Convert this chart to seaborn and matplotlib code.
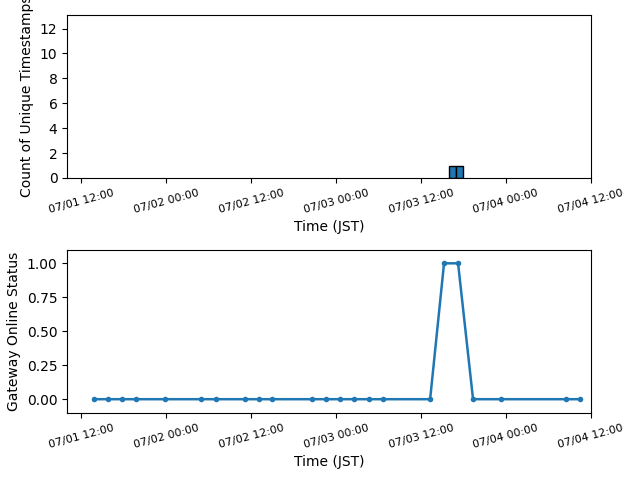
import pandas as pd
import numpy as np
import seaborn as sns
import matplotlib
matplotlib.use("Agg")
import matplotlib.pyplot as plt
import matplotlib.dates as mdates

# Dados de status do gateway (JST)
status_times = [
    "2025-07-01 13:44", "2025-07-01 15:45", "2025-07-01 17:44", "2025-07-01 19:42",
    "2025-07-01 23:47", "2025-07-02 04:52", "2025-07-02 06:59", "2025-07-02 11:04",
    "2025-07-02 13:03", "2025-07-02 15:01", "2025-07-02 20:35", "2025-07-02 22:38",
    "2025-07-03 00:37", "2025-07-03 02:35", "2025-07-03 04:42", "2025-07-03 06:40",
    "2025-07-03 13:18", "2025-07-03 15:16", "2025-07-03 17:15", "2025-07-03 19:22",
    "2025-07-03 23:19", "2025-07-04 08:33", "2025-07-04 10:28",
]
status_values = [0, 0, 0, 0, 0, 0, 0, 0, 0, 0, 0, 0,
                 0, 0, 0, 0, 0, 1, 1, 0, 0, 0, 0]

# Timestamps únicos online (contagem por hora)
online_times = ["2025-07-03 16:25", "2025-07-03 17:25"]
hist_start = "2025-07-03 16:00"
hist_end = "2025-07-03 18:00"

x_start = "2025-07-01 10:00"
x_end = "2025-07-04 12:00"
tick_times = pd.date_range("2025-07-01 12:00", "2025-07-04 12:00", freq="12h")

status_df = pd.DataFrame({"time": pd.to_datetime(status_times), "status": status_values})
online_num = mdates.date2num(pd.to_datetime(online_times))

fig, (ax1, ax2) = plt.subplots(2, 1, figsize=(6.4, 4.8))

# Histograma
sns.histplot(x=online_num, ax=ax1, binwidth=1 / 24,
             binrange=(mdates.date2num(pd.Timestamp(hist_start)),
                       mdates.date2num(pd.Timestamp(hist_end))),
             color="#1f77b4", alpha=1, edgecolor="black", linewidth=1)
ax1.set_ylim(0, 13.1)
ax1.set_yticks(range(0, 13, 2))
ax1.set_ylabel("Count of Unique Timestamps")

# Linha de status
sns.lineplot(x="time", y="status", data=status_df, ax=ax2, marker="o",
             markersize=4, markeredgewidth=0, color="#1f77b4", linewidth=1.8)
ax2.set_ylim(-0.1, 1.1)
ax2.set_yticks([0, 0.25, 0.5, 0.75, 1.0])
ax2.set_ylabel("Gateway Online Status")

for ax in (ax1, ax2):
    ax.set_xlim(mdates.date2num(pd.Timestamp(x_start)), mdates.date2num(pd.Timestamp(x_end)))
    ax.set_xticks(mdates.date2num(tick_times))
    ax.xaxis.set_major_formatter(mdates.DateFormatter("%m/%d %H:%M"))
    ax.tick_params(axis="x", labelsize=8, labelrotation=15)
    ax.set_xlabel("Time (JST)")

plt.subplots_adjust(left=0.105, right=0.923, top=0.969, bottom=0.14, hspace=0.44)
plt.savefig("out.png", dpi=100)
